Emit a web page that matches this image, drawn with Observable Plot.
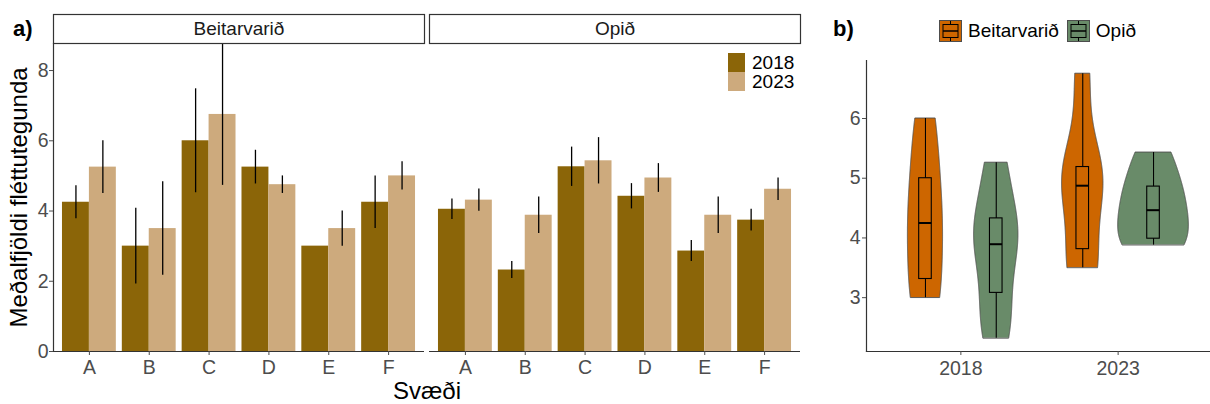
<!DOCTYPE html>
<html><head><meta charset="utf-8">
<script src="https://cdn.jsdelivr.net/npm/d3@7"></script>
<script src="https://cdn.jsdelivr.net/npm/@observablehq/plot@0.6"></script>
<style>
html,body{margin:0;padding:0;background:#fff;overflow:hidden;}
#root{position:relative;width:1210px;height:404px;font-family:"Liberation Sans",Arial,sans-serif;}
.abs{position:absolute;}
.abs svg{max-width:none;}
.tag{font-weight:bold;font-size:22px;color:#000;line-height:22px;}
.leg-row{display:flex;align-items:center;height:19px;font-size:19px;color:#000;}
.leg-row .sw{width:17px;height:19px;margin-right:7px;}
.legb{display:flex;align-items:center;font-size:19px;color:#000;}
.legb svg{margin-right:6px;}
</style></head><body><div id="root"></div>
<script>
// ---------- data ----------
const sites = ["A", "B", "C", "D", "E", "F"];
const areas = ["Beitarvarið", "Opið"];
const years = ["2018", "2023"];
const beit2018 = [4.25, 3.0, 6.0, 5.25, 3.0, 4.25];
const beit2018se = [0.47, 1.08, 1.48, 0.48, 0, 0.75];
const beit2023 = [5.25, 3.5, 6.75, 4.75, 3.5, 5.0];
const beit2023se = [0.75, 1.33, 2.02, 0.25, 0.5, 0.4];
const opid2018 = [4.05, 2.32, 5.26, 4.42, 2.86, 3.74];
const opid2018se = [0.29, 0.24, 0.56, 0.36, 0.30, 0.31];
const opid2023 = [4.31, 3.88, 5.43, 4.94, 3.88, 4.62];
const opid2023se = [0.32, 0.52, 0.66, 0.41, 0.52, 0.32];
const yTicksA = [0, 2, 4, 6, 8];
const yTicksB = [3, 4, 5, 6];
const yTitle = "Meðalfjöldi fléttutegunda";
const xTitle = "Svæði";
const barColors = ["#8B6508", "#CDAA7D"];
const violinColors = ["#CD6600", "#698B69"];

const means = [[beit2018, beit2023], [opid2018, opid2023]];
const ses = [[beit2018se, beit2023se], [opid2018se, opid2023se]];
const FONT = '"Liberation Sans", Arial, sans-serif';
const DODGE = 0.225;

const root = document.getElementById("root");
function place(node, left, top, width) {
  const d = document.createElement("div");
  d.className = "abs";
  d.style.left = left + "px"; d.style.top = top + "px";
  if (width) d.style.width = width + "px";
  d.appendChild(node);
  root.appendChild(d);
  return d;
}

// ---------- panel a ----------
const barRows = [];
areas.forEach((area, ai) => years.forEach((year, yi) => sites.forEach((site, si) => {
  barRows.push({area, year, site, pos: si + 1 + (yi === 0 ? -DODGE : DODGE),
    mean: means[ai][yi][si], se: ses[ai][yi][si]});
})));
const yMaxA = d3.max(barRows, d => d.mean + d.se);
const fxOpts = {domain: areas, paddingInner: 10 / 752, paddingOuter: 0, axis: null, label: null};

const panelA = Plot.plot({
  width: 810, height: 404, marginLeft: 53, marginRight: 10, marginTop: 43, marginBottom: 53,
  style: {fontFamily: FONT, background: "transparent", overflow: "visible"},
  fx: fxOpts,
  x: {domain: [0.4, sites.length + 0.6]},
  y: {domain: [0, yMaxA]},
  color: {domain: years, range: barColors},
  marks: [
    Plot.rectY(barRows, {fx: "area", x1: d => d.pos - DODGE, x2: d => d.pos + DODGE, y: "mean", fill: "year"}),
    Plot.ruleX(barRows.filter(d => d.se > 0), {fx: "area", x: "pos", y1: d => d.mean - d.se, y2: d => Math.min(yMaxA, d.mean + d.se), stroke: "#000", strokeWidth: 1.3}),
    Plot.ruleY([0], {stroke: "#333", strokeWidth: 1.2}),
    Plot.frame({anchor: "left", facetAnchor: "left", stroke: "#333", strokeWidth: 1.2}),
    Plot.axisY({ticks: yTicksA, tickFormat: d3.format("d"), tickSize: 4, tickPadding: 1, fontSize: 19.5, color: "#4D4D4D", label: null}),
    Plot.axisY({ticks: [], label: yTitle, labelAnchor: "center", labelArrow: "none", labelOffset: 44, fontSize: 24, color: "#000"}),
    Plot.axisX({ticks: d3.range(1, sites.length + 1), tickFormat: i => sites[i - 1], tickSize: 4, tickPadding: 5, fontSize: 19.5, color: "#4D4D4D", label: null}),
    Plot.axisX({ticks: [], label: xTitle, labelAnchor: "center", labelArrow: "none", labelOffset: 47, fontSize: 24, color: "#000"})
  ]
});
place(panelA, 0, 0, 810);

// strips
const strips = Plot.plot({
  width: 810, height: 43, marginLeft: 53, marginRight: 10, marginTop: 14, marginBottom: 0,
  style: {fontFamily: FONT, background: "transparent", overflow: "visible"},
  fx: fxOpts,
  marks: [
    Plot.frame({stroke: "#333", strokeWidth: 1.2, fill: "white"}),
    Plot.text(areas, {fx: d => d, text: d => d, frameAnchor: "middle", fontSize: 19, fill: "#1A1A1A"})
  ]
});
place(strips, 0, 0, 810);

// legend a
const legA = document.createElement("div");
years.forEach((y, i) => {
  const r = document.createElement("div"); r.className = "leg-row";
  const s = document.createElement("div"); s.className = "sw"; s.style.background = barColors[i];
  r.appendChild(s); r.appendChild(document.createTextNode(y));
  legA.appendChild(r);
});
place(legA, 728, 53);

// ---------- panel b ----------
function nrd0(x) {
  const hi = d3.deviation(x);
  const iqr = d3.quantile(x, 0.75) - d3.quantile(x, 0.25);
  let lo = Math.min(hi, iqr / 1.34);
  if (!lo) lo = hi || Math.abs(x[0]) || 1;
  return 0.9 * lo * Math.pow(x.length, -0.2);
}
const groups = [];
areas.forEach((area, ai) => years.forEach((year, yi) => {
  const v = means[ai][yi].slice().sort(d3.ascending);
  const bw = nrd0(v);
  const lo = v[0], hi = v[v.length - 1];
  const pts = d3.range(512).map(k => {
    const y = lo + (hi - lo) * k / 511;
    const dens = d3.sum(v, xi => Math.exp(-0.5 * ((y - xi) / bw) ** 2)) / (v.length * bw * Math.sqrt(2 * Math.PI));
    return {y, dens};
  });
  groups.push({area, year, key: area + year, cx: yi + 1 + (ai === 0 ? -DODGE : DODGE), pts,
    min: lo, max: hi, q1: d3.quantile(v, 0.25), med: d3.quantile(v, 0.5), q3: d3.quantile(v, 0.75)});
}));
const maxDens = d3.max(groups, g => d3.max(g.pts, p => p.dens));
const violinRows = groups.flatMap(g => g.pts.map(p => ({key: g.key, area: g.area, y: p.y,
  x1: g.cx - p.dens / maxDens * DODGE, x2: g.cx + p.dens / maxDens * DODGE})));
const allVals = means.flat(2);
const ext = d3.extent(allVals), pad = (ext[1] - ext[0]) * 0.05;
const BOXW = 0.04;

const panelB = Plot.plot({
  width: 392, height: 404, marginLeft: 46, marginRight: 0, marginTop: 60, marginBottom: 53,
  style: {fontFamily: FONT, background: "transparent", overflow: "visible"},
  x: {domain: [0.4, years.length + 0.6]},
  y: {domain: [ext[0] - pad, ext[1] + pad]},
  color: {domain: areas, range: violinColors},
  marks: [
    Plot.areaX(violinRows, {y: "y", x1: "x1", x2: "x2", z: "key", fill: "area", stroke: "#4D4D4D", strokeWidth: 0.9}),
    Plot.ruleX(groups, {x: "cx", y1: "min", y2: "max", stroke: "#000", strokeWidth: 1.1}),
    Plot.rect(groups, {x1: d => d.cx - BOXW, x2: d => d.cx + BOXW, y1: "q1", y2: "q3", fill: "area", stroke: "#000", strokeWidth: 1.1}),
    Plot.ruleY(groups, {y: "med", x1: d => d.cx - BOXW, x2: d => d.cx + BOXW, stroke: "#000", strokeWidth: 2}),
    Plot.frame({anchor: "left", stroke: "#333", strokeWidth: 1.2}),
    Plot.frame({anchor: "bottom", stroke: "#333", strokeWidth: 1.2}),
    Plot.axisY({ticks: yTicksB, tickFormat: d3.format("d"), tickSize: 4, tickPadding: 2, fontSize: 19.5, color: "#4D4D4D", label: null}),
    Plot.axisX({ticks: d3.range(1, years.length + 1), tickFormat: i => years[i - 1], tickSize: 4, tickPadding: 6, fontSize: 19.5, color: "#4D4D4D", label: null})
  ]
});
place(panelB, 820, 0, 392);

// legend b
const legB = document.createElement("div");
legB.style.display = "flex"; legB.style.alignItems = "center";
areas.forEach((a, i) => {
  const r = document.createElement("div"); r.className = "legb";
  if (i > 0) r.style.marginLeft = "8px";
  const svg = d3.create("svg").attr("width", 23).attr("height", 22);
  svg.append("rect").attr("x", 0.5).attr("y", 0.5).attr("width", 22).attr("height", 21)
    .attr("fill", violinColors[i]).attr("stroke", "#4D4D4D");
  svg.append("line").attr("x1", 11.5).attr("x2", 11.5).attr("y1", 1).attr("y2", 21).attr("stroke", "#000");
  svg.append("rect").attr("x", 4).attr("y", 4.5).attr("width", 15).attr("height", 13)
    .attr("fill", violinColors[i]).attr("stroke", "#000");
  svg.append("line").attr("x1", 4).attr("x2", 19).attr("y1", 11).attr("y2", 11).attr("stroke", "#000").attr("stroke-width", 1.5);
  r.appendChild(svg.node()); r.appendChild(document.createTextNode(a));
  legB.appendChild(r);
});
place(legB, 939, 20);

// panel tags
const ta = document.createElement("div"); ta.className = "tag"; ta.textContent = "a)";
place(ta, 13, 18);
const tb = document.createElement("div"); tb.className = "tag"; tb.textContent = "b)";
place(tb, 833, 18);
</script></body></html>
